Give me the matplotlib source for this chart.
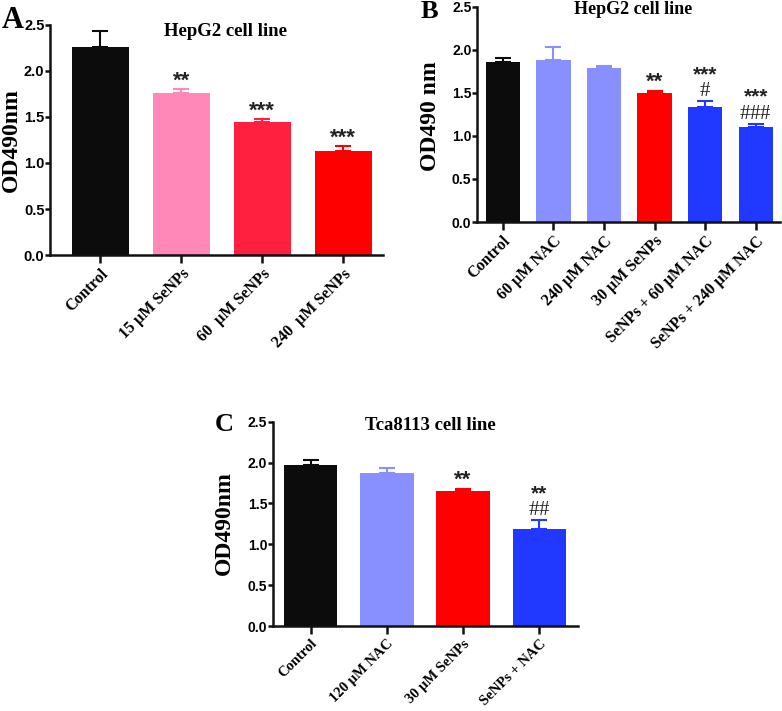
import matplotlib
matplotlib.use("Agg")
import matplotlib.pyplot as plt
import numpy as np

# ---- Data ----
a_labels = ["Control", "15 \u00b5M SeNPs", "60  \u00b5M SeNPs", "240  \u00b5M SeNPs"]
a_values = [2.26, 1.76, 1.445, 1.13]
a_errors = [0.17, 0.04, 0.03, 0.05]
a_marks_top = ["", "**", "***", "***"]
a_marks_hash = ["", "", "", ""]

b_labels = ["Control", "60 \u00b5M NAC", "240 \u00b5M NAC", "30 \u00b5M SeNPs",
            "SeNPs + 60 \u00b5M NAC", "SeNPs + 240 \u00b5M NAC"]
b_values = [1.86, 1.88, 1.785, 1.495, 1.34, 1.105]
b_errors = [0.04, 0.15, 0.03, 0.03, 0.06, 0.03]
b_marks_top = ["", "", "", "**", "***", "***"]
b_marks_hash = ["", "", "", "", "#", "###"]

c_labels = ["Control", "120 \u00b5M NAC", "30 \u00b5M SeNPs", "SeNPs + NAC"]
c_values = [1.97, 1.868, 1.65, 1.183]
c_errors = [0.06, 0.07, 0.026, 0.11]
c_marks_top = ["", "", "**", "**"]
c_marks_hash = ["", "", "", "##"]

BLACK = "#0c0c0c"
PINK = "#ff88b8"
CRIMSON = "#ff2040"
RED = "#ff0000"
LBLUE = "#8890ff"
BLUE = "#2038ff"

a_colors = [BLACK, PINK, CRIMSON, RED]
b_colors = [BLACK, LBLUE, LBLUE, RED, BLUE, BLUE]
c_colors = [BLACK, LBLUE, RED, BLUE]

SERIF = "Liberation Serif"
SANS = "Liberation Sans"

plt.rcParams["mathtext.fontset"] = "custom"
plt.rcParams["mathtext.rm"] = "Liberation Serif"
plt.rcParams["mathtext.it"] = "Liberation Serif:italic"
plt.rcParams["mathtext.bf"] = "Liberation Serif:bold"

W, H = 782, 711
fig = plt.figure(figsize=(W / 100, H / 100), dpi=100)


def fx(px):
    return px / W


def fy(py):
    return 1 - py / H


def panel(rect, labels, values, errors, colors, marks_top, marks_hash,
          title, title_xy, title_size, ylabel, ylabel_xy, letter, letter_xy,
          letter_size, xlim, width, tick_size, xlab_size):
    ax = fig.add_axes(rect)
    x = np.arange(len(values))
    ax.bar(x, values, width=width, color=colors, edgecolor="none", zorder=2)
    for xi, v, e, c in zip(x, values, errors, colors):
        ax.errorbar(xi, v, yerr=[[0], [e]], fmt="none", ecolor=c,
                    elinewidth=1.5, capsize=6, capthick=1.5, zorder=3)
    for xi, v, e, mt, mh in zip(x, values, errors, marks_top, marks_hash):
        top = v + e
        if mh:
            hashes = "$" + "\\#" * len(mh) + "$"
            ax.annotate(mt + "\n" + hashes, (xi, top), xytext=(0, 1),
                        textcoords="offset points", ha="center", va="bottom",
                        multialignment="center", linespacing=0.8,
                        fontsize=15, family=SANS, fontweight="bold",
                        color="#222222")
        elif mt:
            ax.annotate(mt, (xi, top), xytext=(0, -1.5), textcoords="offset points",
                        ha="center", va="bottom", fontsize=16, family=SANS,
                        fontweight="bold", color="#222222")
    ax.set_ylim(0, 2.5)
    ax.set_xlim(*xlim)
    ax.set_yticks([0.0, 0.5, 1.0, 1.5, 2.0, 2.5])
    ax.set_yticklabels(["0.0", "0.5", "1.0", "1.5", "2.0", "2.5"],
                       family=SANS, fontweight="bold", fontsize=tick_size)
    ax.set_xticks(x)
    ax.set_xticklabels(labels, rotation=45, ha="right", rotation_mode="anchor",
                       family=SERIF, fontweight="bold", fontsize=xlab_size)
    ax.tick_params(axis="both", width=1.8, direction="out", color="#111111")
    ax.tick_params(axis="y", length=3.5, pad=0.5)
    ax.tick_params(axis="x", length=6, pad=2)
    for s in ["top", "right"]:
        ax.spines[s].set_visible(False)
    for s in ["left", "bottom"]:
        ax.spines[s].set_linewidth(1.8)
        ax.spines[s].set_color("#111111")
    fig.text(fx(ylabel_xy[0]), fy(ylabel_xy[1]), ylabel, rotation=90,
             ha="center", va="center", family=SERIF, fontweight="bold", fontsize=17)
    fig.text(fx(title_xy[0]), fy(title_xy[1]), title, ha="center", va="center",
             family=SERIF, fontweight="bold", fontsize=title_size)
    fig.text(fx(letter_xy[0]), fy(letter_xy[1]), letter, ha="left", va="center",
             family=SERIF, fontweight="bold", fontsize=letter_size)
    return ax


panel([fx(50), fy(255), fx(383) - fx(50), fy(25) - fy(255)],
      a_labels, a_values, a_errors, a_colors, a_marks_top, a_marks_hash,
      "HepG2 cell line", (226, 32), 13.5, "OD490nm", (11, 140), "A", (2, 21), 22,
      (-0.62, 3.49), 0.70, 10.5, 11.5)
panel([fx(477), fy(222), fx(780) - fx(477), fy(6.7) - fy(222)],
      b_labels, b_values, b_errors, b_colors, b_marks_top, b_marks_hash,
      "HepG2 cell line", (633, 10), 13, "OD490 nm", (430, 116), "B", (421, 11), 19,
      (-0.51, 5.48), 0.68, 10, 11.5)
panel([fx(272.7), fy(626), fx(578) - fx(272.7), fy(421.7) - fy(626)],
      c_labels, c_values, c_errors, c_colors, c_marks_top, c_marks_hash,
      "Tca8113 cell line", (430, 426), 13.5, "OD490nm", (224.5, 523), "C", (215, 425), 19,
      (-0.5, 3.51), 0.70, 10, 10.5)

fig.savefig("out.png", dpi=100, facecolor="white")
